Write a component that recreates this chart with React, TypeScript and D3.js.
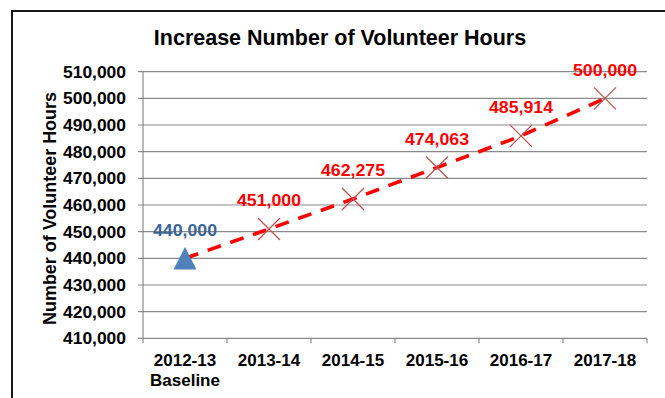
import React from "react";
import * as d3 from "d3";

// Fiscal years and volunteer-hour targets
const categories = ["2012-13", "2013-14", "2014-15", "2015-16", "2016-17", "2017-18"];
const subLabels = ["Baseline", "", "", "", "", ""];
const hours = [440000, 451000, 462275, 474063, 485914, 500000];
const yTicks = [410000, 420000, 430000, 440000, 450000, 460000, 470000, 480000, 490000, 500000, 510000];

const W = 665;
const H = 398;
const FONT = "'Liberation Sans', Arial, sans-serif";

export default function App() {
  const x = d3.scaleBand<string>().domain(categories).range([143, 647]);
  const y = d3.scaleLinear().domain([410000, 510000]).range([338.3, 71.7]);
  const fmt = d3.format(",");

  const pts = categories.map((c, i) => ({
    cx: (x(c) as number) + x.bandwidth() / 2,
    cy: y(hours[i]),
    v: hours[i],
  }));

  const line = d3
    .line<{ cx: number; cy: number }>()
    .x((d) => d.cx)
    .y((d) => d.cy);

  const boundaries = [...categories.map((c) => x(c) as number), x.range()[1]];
  const [x0, x1] = x.range();
  const gridColor = "#8a8a8a";

  return (
    <svg
      width={W}
      height={H}
      style={{ position: "fixed", left: 0, top: 0, background: "#fff" }}
      fontFamily={FONT}
    >
      <rect x={0} y={0} width={W} height={H} fill="#fff" />
      {/* chart frame */}
      <rect x={12} y={11} width={W + 20} height={H + 20} fill="none" stroke="#000" strokeWidth={1.8} />

      {/* title */}
      <text x={340} y={45} textAnchor="middle" fontSize={21.5} fontWeight="bold" fill="#000">
        Increase Number of Volunteer Hours
      </text>

      {/* horizontal gridlines and y tick labels */}
      {yTicks.map((t) => (
        <g key={t}>
          <line x1={138} x2={x1} y1={y(t)} y2={y(t)} stroke={gridColor} strokeWidth={1.2} />
          <text
            x={126}
            y={y(t) + 6}
            textAnchor="end"
            fontSize={17}
            fontWeight="bold"
            fill="#000"
            textLength={63}
            lengthAdjust="spacingAndGlyphs"
          >
            {fmt(t)}
          </text>
        </g>
      ))}

      {/* y axis line */}
      <line x1={x0} x2={x0} y1={y(510000)} y2={y(410000)} stroke={gridColor} strokeWidth={1.2} />

      {/* x axis ticks */}
      {boundaries.map((b, i) => (
        <line key={i} x1={b} x2={b} y1={y(410000)} y2={y(410000) + 5} stroke={gridColor} strokeWidth={1.2} />
      ))}

      {/* x category labels */}
      {categories.map((c, i) => (
        <g key={c}>
          <text
            x={(x(c) as number) + x.bandwidth() / 2}
            y={366}
            textAnchor="middle"
            fontSize={17}
            fontWeight="bold"
            fill="#000"
          >
            {c}
          </text>
          {subLabels[i] && (
            <text
              x={(x(c) as number) + x.bandwidth() / 2}
              y={386}
              textAnchor="middle"
              fontSize={17}
              fontWeight="bold"
              fill="#000"
            >
              {subLabels[i]}
            </text>
          )}
        </g>
      ))}

      {/* y axis title */}
      <text
        transform={`translate(56,208.5) rotate(-90)`}
        textAnchor="middle"
        fontSize={17.5}
        fontWeight="bold"
        fill="#000"
        textLength={233}
        lengthAdjust="spacingAndGlyphs"
      >
        Number of Volunteer Hours
      </text>

      {/* dashed trend line */}
      <path
        d={line(pts) as string}
        fill="none"
        stroke="#ff0000"
        strokeWidth={3.6}
        strokeDasharray="14,10"
      />

      {/* markers */}
      {pts.map((p, i) =>
        i === 0 ? (
          <path
            key={i}
            d={`M${p.cx},${p.cy - 11.3}L${p.cx + 11.5},${p.cy + 11.3}L${p.cx - 11.5},${p.cy + 11.3}Z`}
            fill="#4f81bd"
          />
        ) : (
          <g key={i} stroke="#c0504d" strokeWidth={1.3}>
            <line x1={p.cx - 11} x2={p.cx + 11} y1={p.cy - 11} y2={p.cy + 11} />
            <line x1={p.cx - 11} x2={p.cx + 11} y1={p.cy + 11} y2={p.cy - 11} />
          </g>
        )
      )}

      {/* value labels */}
      {pts.map((p, i) => (
        <text
          key={i}
          x={p.cx}
          y={p.cy - 22.5}
          textAnchor="middle"
          fontSize={17}
          fontWeight="bold"
          fill={i === 0 ? "#3b6498" : "#ff0000"}
          textLength={64}
          lengthAdjust="spacingAndGlyphs"
        >
          {fmt(p.v)}
        </text>
      ))}
    </svg>
  );
}
